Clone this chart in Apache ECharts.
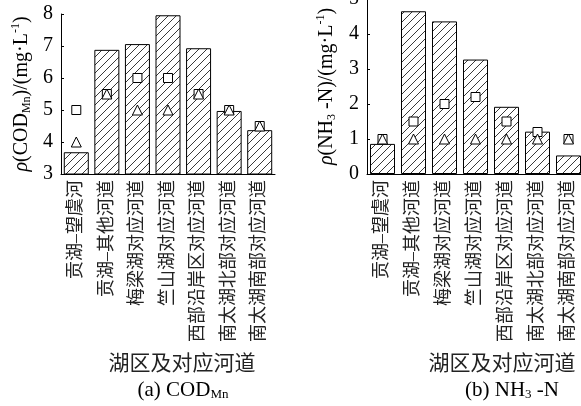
<!DOCTYPE html>
<html>
<head>
<meta charset="utf-8">
<script src="https://cdn.jsdelivr.net/npm/echarts@6/dist/echarts.min.js"></script>
<style>
  html, body { margin: 0; padding: 0; background: #fff; }
  #chart { width: 581px; height: 406px; }
</style>
</head>
<body>
<div id="chart"></div>
<script>
// Lake regions and their corresponding channels
const categories = ['贡湖–望虞河', '贡湖–其他河道', '梅梁湖对应河道', '竺山湖对应河道',
  '西部沿岸区对应河道', '南太湖北部对应河道', '南太湖南部对应河道'];

// (a) COD_Mn, mg/L
const codBars = [3.68, 6.88, 7.06, 7.96, 6.93, 4.97, 4.37];
const codSquares = [5, 5.5, 6, 6, 5.5, 5, 4.5];
const codTriangles = [4, 5.5, 5, 5, 5.5, 5, 4.5];
const codTicks = [3, 4, 5, 6, 7, 8];

// (b) NH3-N, mg/L
const nhBars = [0.86, 4.65, 4.36, 3.27, 1.92, 1.21, 0.53];
const nhSquares = [1, 1.5, 2, 2.2, 1.5, 1.2, 1];
const nhTriangles = [1, 1, 1, 1, 1, 1, 1];
const nhTicks = [0, 1, 2, 3, 4, 5];

const SERIF = '"Liberation Serif", "Times New Roman", serif';
const CJK = '"Liberation Serif", "Noto Sans CJK SC", serif';

// diagonal hatch tile for the bars
function hatchTile() {
  const c = document.createElement('canvas');
  const s = 8;
  c.width = s; c.height = s;
  const g = c.getContext('2d');
  g.fillStyle = '#fff';
  g.fillRect(0, 0, s, s);
  g.strokeStyle = '#222';
  g.lineWidth = 0.9;
  g.beginPath();
  g.moveTo(-1, s + 1); g.lineTo(s + 1, -1);
  g.moveTo(-1, 1); g.lineTo(1, -1);
  g.moveTo(s - 1, s + 1); g.lineTo(s + 1, s - 1);
  g.stroke();
  return c;
}
const hatch = { image: hatchTile(), repeat: 'repeat' };

const nameRich = {
  it: { fontFamily: SERIF, fontSize: 20, fontStyle: 'italic', color: '#000' },
  n: { fontFamily: SERIF, fontSize: 20, color: '#000' },
  sub: { fontFamily: SERIF, fontSize: 12, color: '#000', verticalAlign: 'bottom', padding: [0, 0, -1, 0] },
  sup: { fontFamily: SERIF, fontSize: 12, color: '#000', verticalAlign: 'top', padding: [-2, 0, 0, 0] }
};

function yAxisCfg(grid, min, max, ticks, name, gap) {
  return {
    gridIndex: grid, type: 'value', min: min, max: max, interval: 1,
    name: name, nameLocation: 'middle', nameRotate: 90, nameGap: gap,
    nameTextStyle: { rich: nameRich },
    axisLine: { show: true, lineStyle: { color: '#000', width: 1 } },
    axisTick: { show: true, inside: true, length: 3, lineStyle: { color: '#000' } },
    axisLabel: {
      fontFamily: SERIF, fontSize: 20, color: '#000', margin: 8,
      formatter: v => ticks.includes(v) ? String(v) : ''
    },
    splitLine: { show: false }
  };
}

function xAxisCfg(grid) {
  return {
    gridIndex: grid, type: 'category', data: categories,
    axisLine: { show: true, lineStyle: { color: '#000', width: 1 } },
    axisTick: { show: false },
    axisLabel: {
      rotate: 90, interval: 0, margin: 6,
      fontFamily: CJK, fontSize: 18, color: '#222'
    }
  };
}

function barSeries(idx, data) {
  return {
    type: 'bar', xAxisIndex: idx, yAxisIndex: idx, data: data, barWidth: 25,
    itemStyle: { color: hatch, borderColor: '#000', borderWidth: 1 },
    z: 2
  };
}

function markSeries(idx, data, symbol, size) {
  return {
    type: 'scatter', xAxisIndex: idx, yAxisIndex: idx, data: data,
    symbol: symbol, symbolSize: size,
    itemStyle: { color: '#fff', borderColor: '#000', borderWidth: 1, opacity: 1 },
    z: 5
  };
}

const subTitleRich = {
  n: { fontFamily: SERIF, fontSize: 21, fill: '#000' },
  sub: { fontFamily: SERIF, fontSize: 13, fill: '#000', verticalAlign: 'bottom', padding: [0, 0, -1, 0] }
};

const chart = echarts.init(document.getElementById('chart'), null, { renderer: 'canvas' });
chart.setOption({
  animation: false,
  backgroundColor: '#fff',
  grid: [
    { left: 61, top: 14, width: 214, height: 160, outerBoundsMode: 'none', containLabel: false },
    { left: 367, top: -1, width: 217, height: 175, outerBoundsMode: 'none', containLabel: false }
  ],
  xAxis: [xAxisCfg(0), xAxisCfg(1)],
  yAxis: [
    yAxisCfg(0, 3, 8, codTicks, '{it|ρ}{n|(COD}{sub|Mn}{n|)/(mg·L}{sup|-1}{n|)}', 29),
    yAxisCfg(1, 0, 5, nhTicks, '{it|ρ}{n|(NH}{sub|3}{n| -N)/(mg·L}{sup|-1}{n|)}', 30)
  ],
  series: [
    barSeries(0, codBars),
    markSeries(0, codSquares, 'rect', 9),
    markSeries(0, codTriangles, 'triangle', 10),
    barSeries(1, nhBars),
    markSeries(1, nhSquares, 'rect', 9),
    markSeries(1, nhTriangles, 'triangle', 10)
  ],
  graphic: [
    { type: 'text', x: 182, y: 362, style: { text: '湖区及对应河道', font: '21px "Noto Sans CJK SC"', fill: '#222', align: 'center', verticalAlign: 'middle' } },
    { type: 'text', x: 183, y: 390, style: { text: '{n|(a) COD}{sub|Mn}', align: 'center', verticalAlign: 'middle', rich: subTitleRich } },
    { type: 'text', x: 502, y: 362, style: { text: '湖区及对应河道', font: '21px "Noto Sans CJK SC"', fill: '#222', align: 'center', verticalAlign: 'middle' } },
    { type: 'text', x: 512, y: 390, style: { text: '{n|(b) NH}{sub|3}{n| -N}', align: 'center', verticalAlign: 'middle', rich: subTitleRich } }
  ]
});
</script>
</body>
</html>
